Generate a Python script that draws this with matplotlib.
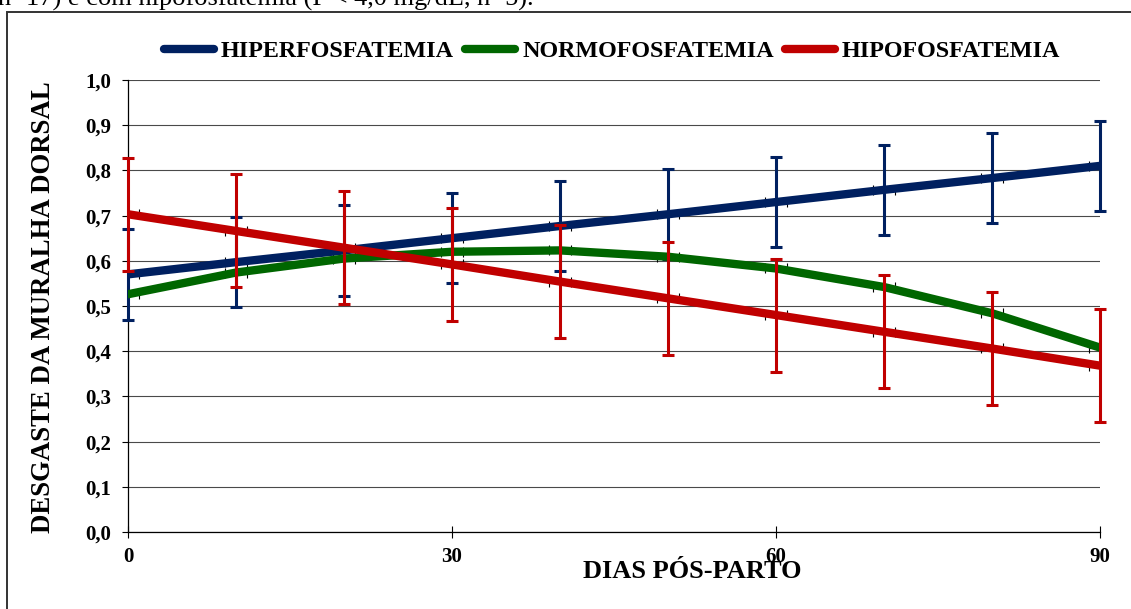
import numpy as np
import matplotlib.pyplot as plt
from matplotlib.patches import Rectangle
from matplotlib.ticker import FuncFormatter

# ---------------------------------------------
# Data: desgaste da muralha dorsal x dias pós-parto
# ---------------------------------------------
dias = [0, 10, 20, 30, 40, 50, 60, 70, 80, 90]

hiper = [0.570, 0.597, 0.623, 0.650, 0.677, 0.703, 0.730, 0.757, 0.783, 0.810]
hiper_err = [0.10, 0.10, 0.10, 0.10, 0.10, 0.10, 0.10, 0.10, 0.10, 0.10]

normo = [0.526, 0.574, 0.605, 0.620, 0.623, 0.609, 0.583, 0.542, 0.484, 0.408]

hipo = [0.703, 0.666, 0.629, 0.592, 0.554, 0.517, 0.480, 0.443, 0.406, 0.368]
hipo_err = [0.125, 0.125, 0.125, 0.125, 0.125, 0.125, 0.125, 0.125, 0.125, 0.125]

dias_err = 1.0   # horizontal error bar (only the caps show around the thick lines)

yticks = [0.0, 0.1, 0.2, 0.3, 0.4, 0.5, 0.6, 0.7, 0.8, 0.9, 1.0]
xticks = [0, 30, 60, 90]

BLUE = '#002060'
GREEN = '#006600'
RED = '#C00000'

plt.rcParams['font.family'] = ['Liberation Serif', 'DejaVu Serif']
plt.rcParams['font.weight'] = 'bold'

W, H = 1131, 609
fig = plt.figure(figsize=(W / 100, H / 100), dpi=100)
ax = fig.add_axes([128 / W, (H - 532) / H, 972 / W, 452 / H])


def draw_series(y, color, label, yerr=None):
    ax.errorbar(dias, y, xerr=dias_err, fmt='none', ecolor='black',
                elinewidth=0.8, capsize=3.6, capthick=0.8, zorder=2)
    if yerr is not None:
        eb = ax.errorbar(dias, y, yerr=yerr, fmt='none', ecolor=color,
                         elinewidth=2.2, capsize=4.3, capthick=2.2, zorder=3)
        for art in eb.lines[1] + eb.lines[2]:
            art.set_clip_on(False)
    ax.plot(dias, y, color=color, linewidth=6, solid_capstyle='round',
            label=label, zorder=3)


draw_series(hiper, BLUE, 'HIPERFOSFATEMIA', hiper_err)
draw_series(normo, GREEN, 'NORMOFOSFATEMIA')
draw_series(hipo, RED, 'HIPOFOSFATEMIA', hipo_err)

ax.set_xlim(0, 90)
ax.set_ylim(0, 1.0)
ax.set_xticks(xticks)
ax.set_yticks(yticks)
ax.yaxis.set_major_formatter(FuncFormatter(lambda v, p: f'{v:.1f}'.replace('.', ',')))
ax.tick_params(axis='both', labelsize=15, color='black')
ax.tick_params(axis='y', direction='out', length=4, width=0.8, pad=8)
ax.tick_params(axis='x', direction='inout', length=9, width=0.8, pad=6)

ax.grid(axis='y', color='#4a4a4a', linewidth=0.8)
ax.set_axisbelow(True)
for side in ['top', 'right']:
    ax.spines[side].set_visible(False)
for side in ['left', 'bottom']:
    ax.spines[side].set_linewidth(0.9)
    ax.spines[side].set_zorder(1)

fig.text(692 / W, (H - 578) / H, 'DIAS PÓS-PARTO', fontsize=19,
         fontweight='bold', ha='center', va='baseline')
fig.text(44 / W, (H - 307) / H, 'DESGASTE DA MURALHA DORSAL', fontsize=19.3,
         fontweight='bold', ha='center', va='center', rotation=90)

fig.legend(loc='center', bbox_to_anchor=(612 / W, (H - 51) / H), ncol=3,
           frameon=False, fontsize=17.4, handlelength=2.07, handletextpad=0.3,
           columnspacing=0.45, borderpad=0, borderaxespad=0)

# caption text above the frame (cut by the top edge)
fig.text(-2 / W, (H - 6) / H, 'n=17) e com hipofosfatemia (P < 4,0 mg/dL, n=5).',
         fontsize=19, fontweight='normal', ha='left', va='baseline')

# outer frame of the chart
fig.patches.append(Rectangle((7 / W, -0.05), 1.2, (H - 12) / H + 0.05,
                             transform=fig.transFigure, fill=False,
                             edgecolor='#333333', linewidth=1.4))

fig.savefig('out.png', dpi=100)
